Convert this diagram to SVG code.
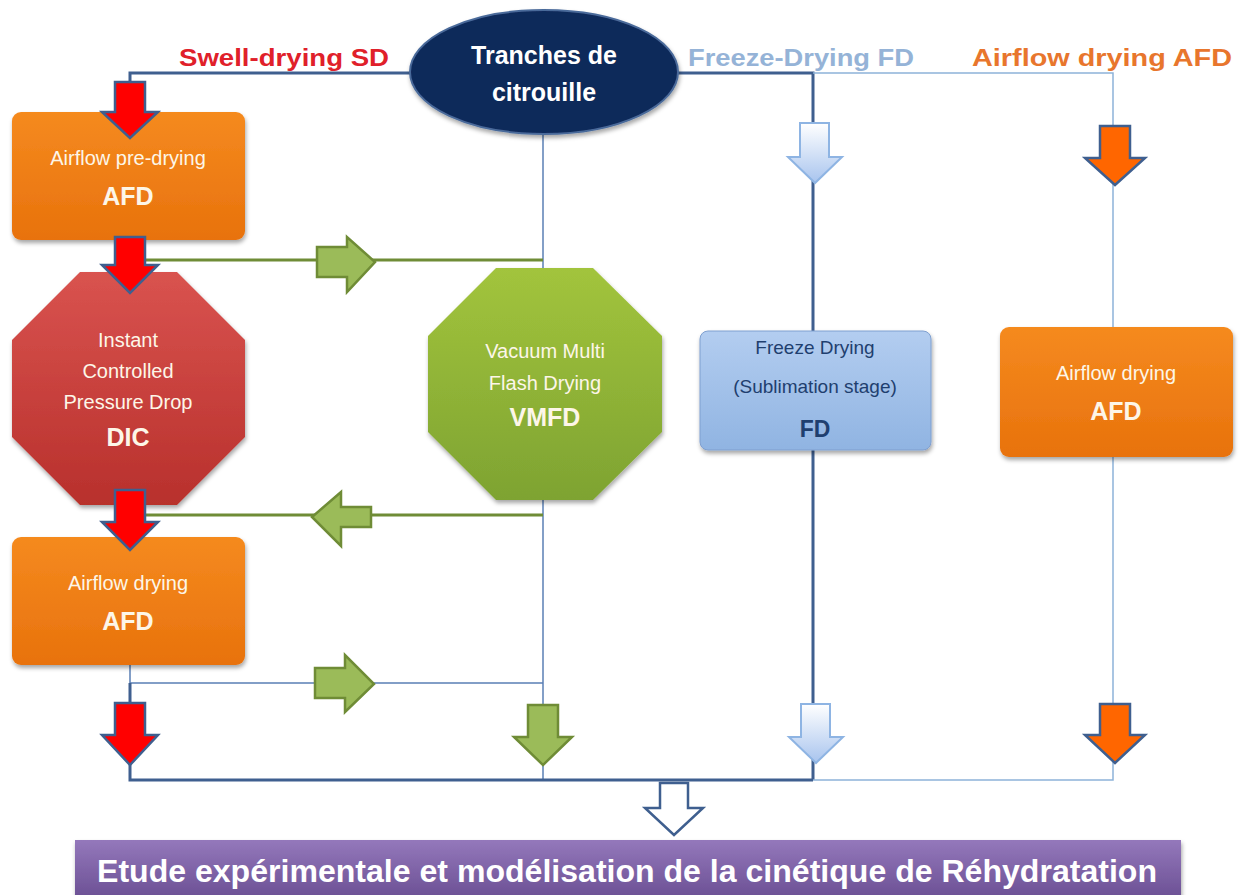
<svg xmlns="http://www.w3.org/2000/svg" width="1245" height="895" viewBox="0 0 1245 895">
<defs>
<linearGradient id="gOr" x1="0" y1="0" x2="0" y2="1"><stop offset="0" stop-color="#f58a1f"/><stop offset="1" stop-color="#e8720c"/></linearGradient>
<linearGradient id="gRed" x1="0" y1="0" x2="0" y2="1"><stop offset="0" stop-color="#d9534f"/><stop offset="1" stop-color="#b8302c"/></linearGradient>
<linearGradient id="gGr" x1="0" y1="0" x2="0" y2="1"><stop offset="0" stop-color="#a2c43c"/><stop offset="1" stop-color="#7ea332"/></linearGradient>
<linearGradient id="gBl" x1="0" y1="0" x2="0" y2="1"><stop offset="0" stop-color="#b3cdf0"/><stop offset="1" stop-color="#90b4e2"/></linearGradient>
<linearGradient id="gPu" x1="0" y1="0" x2="0" y2="1"><stop offset="0" stop-color="#9478bb"/><stop offset="1" stop-color="#6a4f93"/></linearGradient>
<linearGradient id="gLa" x1="0" y1="0" x2="0" y2="1"><stop offset="0" stop-color="#ffffff"/><stop offset="1" stop-color="#a8c4ee"/></linearGradient>
<filter id="sh" x="-10%" y="-10%" width="120%" height="125%"><feDropShadow dx="1" dy="3" stdDeviation="2" flood-color="#000" flood-opacity="0.35"/></filter>
</defs>
<style>
.t{font-family:"Liberation Sans",Arial,sans-serif;text-anchor:middle}
.w{fill:#fdf6e8}
.b{font-weight:bold}
.ln{fill:none;stroke:#3f5f8f;stroke-width:3}
.lt{fill:none;stroke:#8db3d9;stroke-width:1.5}
.lg{fill:none;stroke:#6f8c36;stroke-width:3}
.lb{fill:none;stroke:#5a7fb5;stroke-width:1.5}
.ar{fill:#ff0000;stroke:#3f5f8f;stroke-width:2.5}
.ag{fill:#9bbb59;stroke:#6f8c36;stroke-width:2.5}
.al{fill:url(#gLa);stroke:#8eb4e3;stroke-width:2}
.ao{fill:#ff6600;stroke:#3f5f8f;stroke-width:2.5}
</style>
<rect width="1245" height="895" fill="#ffffff"/>

<g id="headers">
<text class="t b" x="284" y="66" font-size="24" fill="#e0202a" textLength="210" lengthAdjust="spacingAndGlyphs">Swell-drying SD</text>
<text class="t b" x="801" y="66" font-size="24" fill="#95b3d7" textLength="226" lengthAdjust="spacingAndGlyphs">Freeze-Drying FD</text>
<text class="t b" x="1102" y="66" font-size="24" fill="#e8762d" textLength="260" lengthAdjust="spacingAndGlyphs">Airflow  drying AFD</text>
</g>

<g id="connectors">
<polyline class="ln" points="130,82 130,73 545,73"/>
<polyline class="ln" points="545,73 813,73 813,780"/>
<polyline class="lt" points="813,73 1113,73 1113,780 813,780"/>
<line class="lb" x1="543" y1="135" x2="543" y2="780"/>
<line class="lg" x1="145" y1="260" x2="543" y2="260"/>
<line class="lg" x1="145" y1="515" x2="543" y2="515"/>
<polyline class="lb" points="130,665 130,683 543,683"/>
<polyline class="ln" points="130,683 130,780 813,780"/>
</g>

<g id="n-source">
<ellipse cx="544" cy="72" rx="134" ry="62" fill="#10295a" stroke="#4a6a9a" stroke-width="2" filter="url(#sh)"/>
<text class="t b" x="544" y="64" font-size="25" fill="#ffffff">Tranches de</text>
<text class="t b" x="544" y="101" font-size="25" fill="#ffffff">citrouille</text>
</g>

<g id="n-afd-pre">
<rect x="12" y="112" width="233" height="128" rx="9" fill="url(#gOr)" filter="url(#sh)"/>
<text class="t w" x="128" y="165" font-size="20">Airflow  pre-drying</text>
<text class="t w b" x="128" y="205" font-size="25">AFD</text>
</g>

<g id="n-dic">
<polygon points="80,272 177,272 245,340 245,437 177,505 80,505 12,437 12,340" fill="url(#gRed)" filter="url(#sh)"/>
<text class="t w" x="128" y="347" font-size="20">Instant</text>
<text class="t w" x="128" y="378" font-size="20">Controlled</text>
<text class="t w" x="128" y="409" font-size="20">Pressure Drop</text>
<text class="t w b" x="128" y="446" font-size="25">DIC</text>
</g>

<g id="n-afd2">
<rect x="12" y="537" width="233" height="128" rx="9" fill="url(#gOr)" filter="url(#sh)"/>
<text class="t w" x="128" y="590" font-size="20">Airflow  drying</text>
<text class="t w b" x="128" y="630" font-size="25">AFD</text>
</g>

<g id="n-vmfd">
<polygon points="496,268 593,268 662,336 662,432 593,500 496,500 428,432 428,336" fill="url(#gGr)" filter="url(#sh)"/>
<text class="t w" x="545" y="358" font-size="20">Vacuum Multi</text>
<text class="t w" x="545" y="390" font-size="20">Flash Drying</text>
<text class="t w b" x="545" y="426" font-size="25">VMFD</text>
</g>

<g id="n-fd">
<rect x="700" y="331" width="231" height="119" rx="8" fill="url(#gBl)" stroke="#7f9fcf" stroke-width="1" filter="url(#sh)"/>
<text class="t" x="815" y="354" font-size="19" fill="#1f3f6f">Freeze Drying</text>
<text class="t" x="815" y="393" font-size="19" fill="#1f3f6f">(Sublimation stage)</text>
<text class="t b" x="815" y="437" font-size="23" fill="#1f3f6f">FD</text>
</g>

<g id="n-afd3">
<rect x="1000" y="327" width="233" height="130" rx="9" fill="url(#gOr)" filter="url(#sh)"/>
<text class="t w" x="1116" y="380" font-size="20">Airflow  drying</text>
<text class="t w b" x="1116" y="420" font-size="25">AFD</text>
</g>

<g id="n-result">
<rect x="75" y="840" width="1106" height="60" fill="url(#gPu)" filter="url(#sh)"/>
<text class="t b" x="627" y="882" font-size="31" fill="#ffffff" textLength="1060" lengthAdjust="spacingAndGlyphs">Etude expérimentale et modélisation de la cinétique de Réhydratation</text>
</g>

<g id="arrows">
<path class="ar" d="M115,82 H145 V112 H158 L130,138 L102,112 H115 Z"/>
<path class="ar" d="M115,237 H145 V265 H158 L130,293 L102,265 H115 Z"/>
<path class="ar" d="M115,490 H145 V522 H158 L130,550 L102,522 H115 Z"/>
<path class="ar" d="M115,703 H145 V735 H158 L130,765 L102,735 H115 Z"/>
<path class="ag" d="M317,247 H347 V237 L375,262 L347,292 V277 H317 Z"/>
<path class="ag" d="M371,507 H341 V492 L312,517 L341,546 V527 H371 Z"/>
<path class="ag" d="M315,668 H345 V655 L374,684 L345,712 V698 H315 Z"/>
<path class="ag" d="M528,705 H558 V737 H572 L543,765 L514,737 H528 Z"/>
<path class="al" d="M800,123 H829 V157 H842 L815,183 L788,157 H800 Z"/>
<path class="al" d="M801,704 H830 V737 H843 L816,763 L789,737 H801 Z"/>
<path class="ao" d="M1100,126 H1130 V158 H1145 L1115,185 L1085,158 H1100 Z"/>
<path class="ao" d="M1100,704 H1130 V735 H1145 L1115,763 L1085,735 H1100 Z"/>
<path d="M660,783 H688 V808 H703 L674,835 L645,808 H660 Z" fill="#ffffff" stroke="#3f5f8f" stroke-width="2.5"/>
</g>
</svg>
